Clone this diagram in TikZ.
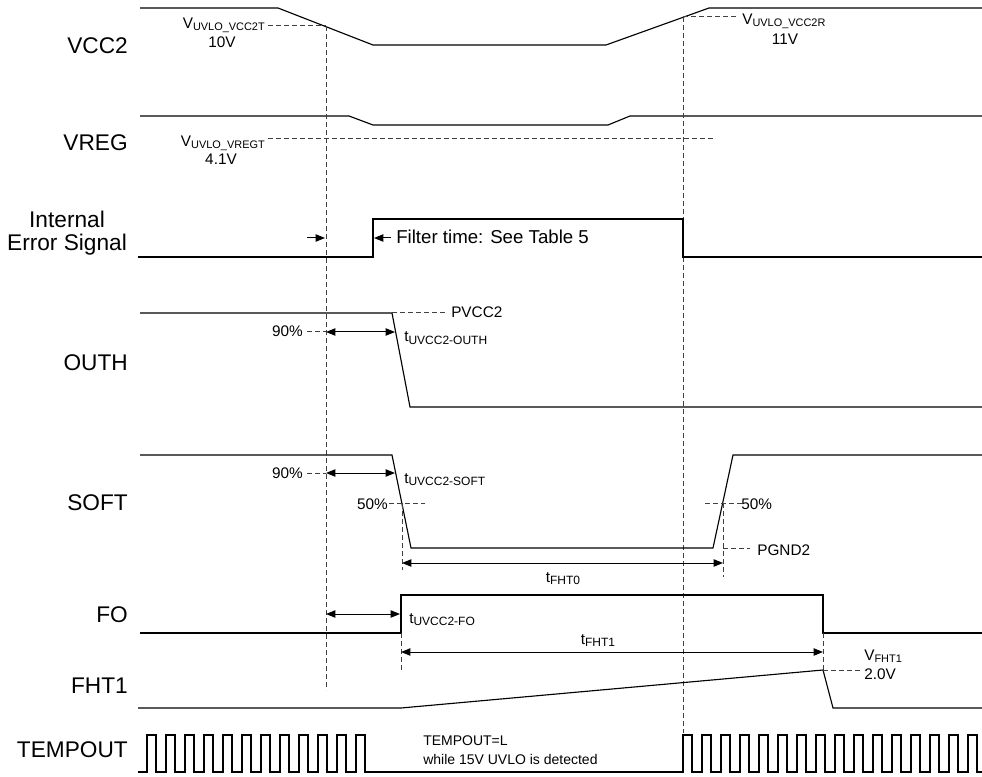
\documentclass[tikz,border=0pt]{standalone}
\usepackage{fontspec}
\setmainfont{Liberation Sans}
\usetikzlibrary{arrows.meta}
\newcommand\vsb[1]{\raisebox{-1.5pt}{\fontsize{8.2}{9}\selectfont #1}}
\newcommand\tsb[1]{\raisebox{-2pt}{\fontsize{9}{10}\selectfont #1}}
\begin{document}
\begin{tikzpicture}[x=0.75pt,y=-0.75pt,
  sig/.style={line width=0.85pt, line join=miter},
  dsh/.style={line width=0.75pt, black!75, dash pattern=on 3.75pt off 2.25pt},
  dimarr/.style={line width=0.75pt, {Triangle[length=7pt,width=5.5pt]}-{Triangle[length=7pt,width=5.5pt]}},
  onearr/.style={line width=0.75pt, -{Triangle[length=7pt,width=5.5pt]}},
  lbl/.style={anchor=base east, inner sep=0pt, font=\fontsize{17}{19}\selectfont},
  txt/.style={inner sep=0pt, font=\fontsize{11.5}{13}\selectfont},
  note/.style={inner sep=0pt, font=\fontsize{10.5}{12}\selectfont}]
\useasboundingbox (0,0) rectangle (982,777);

% ---------- row labels ----------
\node[lbl] (lvcc) at (128,54) {VCC2};
\node[lbl] (lvreg) at (128,151) {VREG};
\node[inner sep=0pt, anchor=base, font=\fontsize{17}{19}\selectfont] (lint1) at (67,228) {Internal};
\node[inner sep=0pt, anchor=base, font=\fontsize{17}{19}\selectfont] (lint2) at (67,251) {Error Signal};
\node[lbl] (louth) at (128,370) {OUTH};
\node[lbl] (lsoft) at (128,510) {SOFT};
\node[lbl] (lfo) at (128,622) {FO};
\node[lbl] (lfht) at (128,693) {FHT1};
\node[lbl] (ltemp) at (128,757) {TEMPOUT};

% ---------- VCC2 ----------
\draw[sig] (140,8) -- (278,8) -- (373,45) -- (606,45) -- (709,8) -- (982,8);
\coordinate (vt) at (326,26);
\coordinate (vtl) at (268,26);
\coordinate (vr) at (683,17);
\coordinate (vrr) at (737,17);
\draw[dsh] (vtl) -- (vt);
\draw[dsh] (vr) -- (vrr);
\node[txt, anchor=base east] (vcc2t) at (265,29) {V\vsb{UVLO\_VCC2T}};
\node[txt, anchor=base] (v10) at (222,48) {10V};
\node[txt, anchor=base west] (vcc2r) at (742,25) {V\vsb{UVLO\_VCC2R}};
\node[txt, anchor=base] (v11) at (785,45) {11V};

% ---------- VREG ----------
\draw[sig] (140,116) -- (349,116) -- (373,125) -- (608,125) -- (630,116) -- (982,116);
\coordinate (rl) at (268,139);
\coordinate (rr) at (715,139);
\draw[dsh] (rl) -- (rr);
\node[txt, anchor=base east] (vregt) at (265,147) {V\vsb{UVLO\_VREGT}};
\node[txt, anchor=base] (v41) at (221,165) {4.1V};

% ---------- long vertical dashed ----------
\coordinate (vtb) at (326,690);
\coordinate (vrb) at (683,733);
\draw[dsh] (vt) -- (vtb);
\draw[dsh] (vr) -- (vrb);

% ---------- Internal Error Signal ----------
\draw[sig] (138,257) -- (373,257) -- (373,219) -- (683,219) -- (683,257) -- (982,257);
\coordinate (ia1) at (307,238);
\coordinate (ia2) at (325,238);
\coordinate (ib1) at (391,238);
\coordinate (ib2) at (374,238);
\draw[onearr] (ia1) -- (ia2);
\draw[onearr] (ib1) -- (ib2);
\node[inner sep=0pt, anchor=base west, font=\fontsize{14}{16}\selectfont] (filt) at (396,244) {Filter time: See Table 5};

% ---------- OUTH ----------
\draw[sig] (140,313) -- (392,313) -- (410,407) -- (982,407);
\draw[dsh] (392,313) -- (447,313);
\node[txt, anchor=base west] (pvcc) at (451,318) {PVCC2};
\draw[dsh] (307,332) -- (326,332);
\node[txt, anchor=base east] (p90a) at (303,337) {90\%};
\coordinate (oa1) at (326,332);
\coordinate (oa2) at (395,332);
\draw[dimarr] (oa1) -- (oa2);
\node[txt, anchor=base west] (touth) at (404,342) {t\tsb{UVCC2-OUTH}};

% ---------- SOFT ----------
\draw[sig] (140,455) -- (392,455) -- (411,548) -- (713,548) -- (733,455) -- (982,455);
\draw[dsh] (307,473) -- (326,473);
\node[txt, anchor=base east] (p90b) at (303,478) {90\%};
\coordinate (sa1) at (326,473);
\coordinate (sa2) at (395,473);
\draw[dimarr] (sa1) -- (sa2);
\node[txt, anchor=base west] (tsoft) at (404,483) {t\tsb{UVCC2-SOFT}};
\draw[dsh] (389,503) -- (425,503);
\node[txt, anchor=base east] (p50a) at (388,509) {50\%};
\draw[dsh] (705,503) -- (742,503);
\node[txt, anchor=base west] (p50b) at (741,509) {50\%};
\draw[dsh] (402,503) -- (402,570);
\draw[dsh] (723,503) -- (723,577);
\draw[dsh] (723,548) -- (750,548);
\node[txt, anchor=base west] (pgnd) at (757,555) {PGND2};
\coordinate (f0a) at (402,563);
\coordinate (f0b) at (723,563);
\draw[dimarr] (f0a) -- (f0b);
\node[txt, anchor=base] (tf0) at (563,582) {t\tsb{FHT0}};

% ---------- FO ----------
\draw[sig] (140,633) -- (401,633) -- (401,595) -- (823,595) -- (823,633) -- (982,633);
\coordinate (fa1) at (326,614);
\coordinate (fa2) at (400,614);
\draw[dimarr] (fa1) -- (fa2);
\node[txt, anchor=base west] (tfo) at (409,623) {t\tsb{UVCC2-FO}};
\draw[dsh] (401,633) -- (401,670);
\draw[dsh] (823,633) -- (823,670);
\coordinate (f1a) at (401,652);
\coordinate (f1b) at (823,652);
\draw[dimarr] (f1a) -- (f1b);
\node[txt, anchor=base] (tf1) at (598,644) {t\tsb{FHT1}};

% ---------- FHT1 ----------
\draw[sig] (138,708) -- (401,708) -- (823,670) -- (833,708) -- (982,708);
\draw[dsh] (823,670) -- (860,670);
\node[txt, anchor=base west] (vfht) at (864,660) {V\vsb{FHT1}};
\node[txt, anchor=base west] (v20) at (864,679) {2.0V};

% ---------- TEMPOUT ----------
\draw[sig] (138,772)
  \foreach \k in {0,...,11} { -- ({147+19*\k},772) -- ({147+19*\k},735) -- ({156+19*\k},735) -- ({156+19*\k},772) }
  -- (683,772)
  \foreach \k in {0,...,15} { -- ({683+19*\k},772) -- ({683+19*\k},735) -- ({692+19*\k},735) -- ({692+19*\k},772) }
  -- (982,772);
\node[note, anchor=base west] (tl1) at (423,745) {TEMPOUT=L};
\node[note, anchor=base west] (tl2) at (423,764) {while 15V UVLO is detected};
\end{tikzpicture}
\end{document}
